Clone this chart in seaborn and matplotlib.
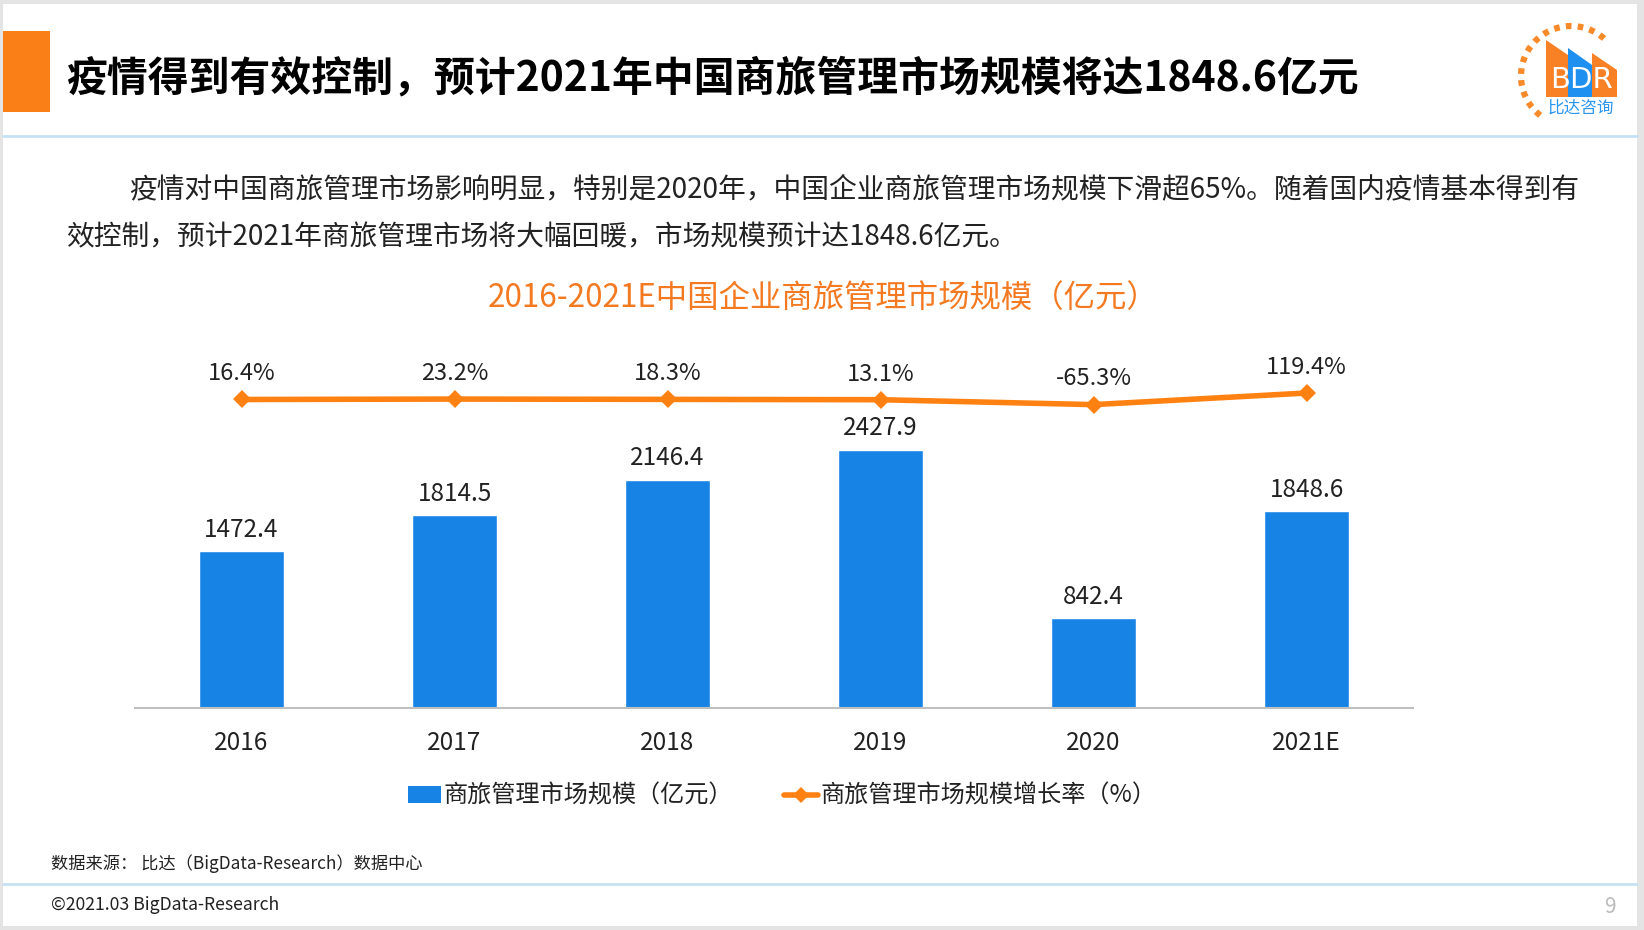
import numpy as np
import pandas as pd
import seaborn as sns
from matplotlib import pyplot as plt
from matplotlib.patches import Rectangle, Polygon
from matplotlib.lines import Line2D

years = ["2016", "2017", "2018", "2019", "2020", "2021E"]
market_size = [1472.4, 1814.5, 2146.4, 2427.9, 842.4, 1848.6]
growth_rate = [16.4, 23.2, 18.3, 13.1, -65.3, 119.4]

title_text = "疫情得到有效控制，预计2021年中国商旅管理市场规模将达1848.6亿元"
para_line1 = "疫情对中国商旅管理市场影响明显，特别是2020年，中国企业商旅管理市场规模下滑超65%。随着国内疫情基本得到有"
para_line2 = "效控制，预计2021年商旅管理市场将大幅回暖，市场规模预计达1848.6亿元。"
chart_title = "2016-2021E中国企业商旅管理市场规模（亿元）"
bar_label = "商旅管理市场规模（亿元）"
line_label = "商旅管理市场规模增长率（%）"
source_text = "数据来源： 比达（BigData-Research）数据中心"
copyright_text = "©2021.03 BigData-Research"

BLUE = "#1784E5"
ORANGE = "#FF8112"
TITLE_ORANGE = "#F47A22"
LIGHT_BLUE = "#C5E2F4"

sns.set_style("white")
plt.rcParams["font.family"] = ["Noto Sans CJK SC", "DejaVu Sans"]

W, H = 1644, 930
fig = plt.figure(figsize=(W / 100, H / 100), dpi=100, facecolor="#E4E4E4")

# decoration layer in pixel coordinates (y downwards)
deco = fig.add_axes([0, 0, 1, 1])
deco.set_xlim(0, W)
deco.set_ylim(H, 0)
deco.axis("off")
deco.add_patch(Rectangle((3, 4), 1634, 922, facecolor="white", edgecolor="none"))
deco.add_patch(Rectangle((3, 31), 47, 81, facecolor="#F97F16", edgecolor="none"))
deco.text(66, 78, title_text, fontsize=29.4, fontweight="bold", color="black",
          va="center", ha="left")
deco.plot([3, 1637], [136, 136], color=LIGHT_BLUE, lw=2)
deco.text(129, 189, para_line1, fontsize=20, color="#222222", va="center")
deco.text(66, 237, para_line2, fontsize=20, color="#222222", va="center")
deco.text(823, 298, chart_title, fontsize=22.6, color=TITLE_ORANGE,
          va="center", ha="center")
deco.text(51, 864, source_text, fontsize=12.4, color="#222222", va="center")
deco.plot([3, 1637], [884, 884], color=LIGHT_BLUE, lw=2)
deco.text(51, 905, copyright_text, fontsize=12.7, color="#222222", va="center")
deco.text(1610, 907, "9", fontsize=15, color="#BBBBBB", va="center", ha="center")

# logo
t = np.radians(np.linspace(232, 42, 200))
cx, cy, r = 1571, 76, 50
deco.plot(cx + r * np.cos(t), cy - r * np.sin(t), color="#F98A2A", lw=4.5,
          dashes=(0.9, 1.0))
deco.add_patch(Polygon([(1546, 40), (1568, 55), (1568, 97), (1546, 97)],
                       facecolor="#F98125", edgecolor="none"))
deco.add_patch(Polygon([(1568, 48), (1592, 65), (1592, 97), (1568, 97)],
                       facecolor="#1E90F0", edgecolor="none"))
deco.add_patch(Polygon([(1592, 53), (1617, 70), (1617, 97), (1592, 97)],
                       facecolor="#F98125", edgecolor="none"))
deco.text(1581, 80, "BDR", fontsize=21, color="white", ha="center", va="center",
          family="DejaVu Sans")
deco.text(1581, 108, "比达咨询", fontsize=12, color="#2A96F0", ha="center",
          va="center")

# chart
ax = fig.add_axes([135 / W, (H - 708) / H, 1278 / W, 378 / H])
ax.patch.set_alpha(0)
df = pd.DataFrame({"year": years, "size": market_size, "growth": growth_rate})
sns.barplot(data=df, x="year", y="size", color=BLUE, saturation=1, width=0.4,
            ax=ax)
ax.set_xlim(-0.5, len(years) - 0.5)
ax.set_ylim(0, 3556)
ax.set_xlabel("")
ax.set_ylabel("")
ax.set_yticks([])
for s in ["top", "left", "right"]:
    ax.spines[s].set_visible(False)
ax.spines["bottom"].set_color("#BFBFBF")
ax.spines["bottom"].set_linewidth(1.5)
ax.tick_params(axis="x", length=0, pad=15.5, labelsize=17.5, labelcolor="#222222")
for i, v in enumerate(market_size):
    ax.annotate(f"{v:.1f}", (i, v), xytext=(0, 15.5), textcoords="offset points",
                ha="center", va="center", fontsize=17.5, color="#222222")

ax2 = ax.twinx()
sns.lineplot(x=np.arange(len(years)), y=growth_rate, ax=ax2, color=ORANGE,
             lw=4, marker="D", markersize=9, markeredgewidth=0, sort=False)
ax2.set_ylim(-4896, 1123)
ax2.set_xlim(-0.5, len(years) - 0.5)
ax2.set_yticks([])
for s in ["top", "left", "right", "bottom"]:
    ax2.spines[s].set_visible(False)
for i, g in enumerate(growth_rate):
    ax2.annotate(f"{g:.1f}%", (i, g), xytext=(0, 18.5), textcoords="offset points",
                 ha="center", va="center", fontsize=17, color="#222222")

handles = [Rectangle((0, 0), 1, 1, facecolor=BLUE, edgecolor="none"),
           Line2D([], [], color=ORANGE, lw=4, marker="D", markersize=8,
                  markeredgewidth=0)]
fig.legend(handles, [bar_label, line_label], loc="center",
           bbox_to_anchor=(782 / W, 1 - 796 / H), ncol=2, frameon=False,
           fontsize=17.4, handlelength=1.4, handleheight=0.7, handletextpad=0.1,
           columnspacing=2.1, labelcolor="#222222")

fig.savefig("out.png", dpi=100, facecolor=fig.get_facecolor())
